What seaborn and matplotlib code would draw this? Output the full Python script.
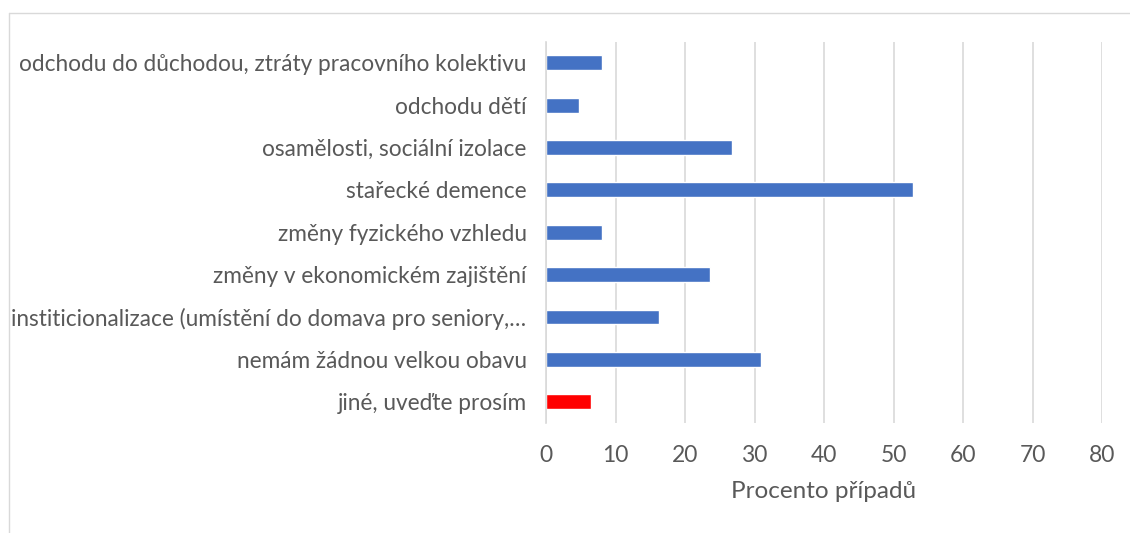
import pandas as pd
import matplotlib.pyplot as plt
import seaborn as sns

categories = [
    "odchodu do důchodou, ztráty pracovního kolektivu",
    "odchodu dětí",
    "osamělosti, sociální izolace",
    "stařecké demence",
    "změny fyzického vzhledu",
    "změny v ekonomickém zajištění",
    "institicionalizace (umístění do domava pro seniory,…",
    "nemám žádnou velkou obavu",
    "jiné, uveďte prosím",
]
values = [8.0, 4.8, 26.7, 52.8, 8.0, 23.6, 16.2, 30.9, 6.5]
groups = ["a", "a", "a", "a", "a", "a", "a", "a", "b"]
xticks = [0, 10, 20, 30, 40, 50, 60, 70, 80]

sns.set_style("white")
plt.rcParams['font.family'] = ['Lato', 'DejaVu Sans']
text_col = "#595959"

df = pd.DataFrame({'Kategorie': categories, 'Procento': values, 'g': groups})

fig = plt.figure(figsize=(11.3, 5.33), dpi=100)
ax = fig.add_axes([546 / 1130, 1 - 423 / 533, (1102 - 546) / 1130, (423 - 41.5) / 533])

sns.barplot(data=df, x='Procento', y='Kategorie', hue='g', orient='h',
            palette={'a': '#4472C4', 'b': '#FF0000'}, width=0.35,
            legend=False, ax=ax, saturation=1)

ax.set_xlim(0, 80)
ax.set_xticks(xticks)
ax.set_xticklabels([str(t) for t in xticks], fontsize=16.5, color=text_col)
ax.set_ylabel("")
ax.set_xlabel("Procento případů", fontsize=17.5, color=text_col, labelpad=11)
ax.tick_params(axis='y', labelsize=16.3, labelcolor=text_col, length=0, pad=14)
ax.tick_params(axis='x', length=0, pad=16)
ax.grid(axis='x', color='#d9d9d9', linewidth=1.2)
ax.set_axisbelow(True)
for s in ['top', 'right', 'bottom']:
    ax.spines[s].set_visible(False)
ax.spines['left'].set_color('#d9d9d9')
ax.spines['left'].set_linewidth(1.2)

# light border of the chart area
fig.add_artist(plt.Line2D([9 / 1130, 1], [1 - 12.5 / 533] * 2, transform=fig.transFigure,
                          color='#d9d9d9', linewidth=1))
fig.add_artist(plt.Line2D([9 / 1130] * 2, [0, 1 - 12.5 / 533], transform=fig.transFigure,
                          color='#d9d9d9', linewidth=1))

fig.savefig("out.png", dpi=100)
